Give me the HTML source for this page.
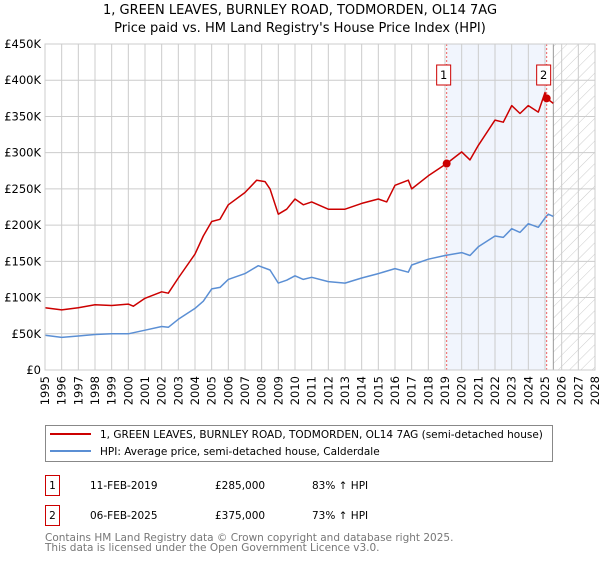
<!DOCTYPE html>
<html><head><meta charset="utf-8">
<style>
body{margin:0;background:#fff;font-family:"DejaVu Sans","Liberation Sans",sans-serif;}
svg text{font-family:"DejaVu Sans","Liberation Sans",sans-serif;}
</style></head><body>
<svg width="600" height="560" xmlns="http://www.w3.org/2000/svg">
<defs>
<pattern id="hatch" width="8" height="8" patternUnits="userSpaceOnUse" patternTransform="rotate(45)">
<line x1="0" y1="0" x2="0" y2="8" stroke="#ccc" stroke-width="1"/>
</pattern>
</defs>
<text x="300" y="14" text-anchor="middle" font-size="13" fill="#000">1, GREEN LEAVES, BURNLEY ROAD, TODMORDEN, OL14 7AG</text>
<text x="300" y="32" text-anchor="middle" font-size="13" fill="#000">Price paid vs. HM Land Registry's House Price Index (HPI)</text>
<g id="plot"></g>
<g>
<rect x="45.5" y="425.5" width="507" height="36" fill="#fff" stroke="#888"/>
<line x1="50" y1="434" x2="91" y2="434" stroke="#cc0000" stroke-width="2"/>
<text x="100" y="438" font-size="10.5">1, GREEN LEAVES, BURNLEY ROAD, TODMORDEN, OL14 7AG (semi-detached house)</text>
<line x1="50" y1="451" x2="91" y2="451" stroke="#5b8fd4" stroke-width="2"/>
<text x="100" y="455" font-size="10.5">HPI: Average price, semi-detached house, Calderdale</text>
</g>
<g font-size="10.5">
<rect x="45.5" y="475.5" width="14" height="20" fill="#fff" stroke="#cc0000"/>
<text x="52.5" y="489" text-anchor="middle">1</text>
<text x="90" y="489">11-FEB-2019</text><text x="215" y="489">£285,000</text><text x="312" y="489">83% ↑ HPI</text>
<rect x="45.5" y="505.5" width="14" height="20" fill="#fff" stroke="#cc0000"/>
<text x="52.5" y="519" text-anchor="middle">2</text>
<text x="90" y="519">06-FEB-2025</text><text x="215" y="519">£375,000</text><text x="312" y="519">73% ↑ HPI</text>
</g>
<text x="45" y="541" font-size="10.5" fill="#777">Contains HM Land Registry data © Crown copyright and database right 2025.</text>
<text x="45" y="551" font-size="10.5" fill="#777">This data is licensed under the Open Government Licence v3.0.</text>
</svg>
<script>
const yTicks=[0,50,100,150,200,250,300,350,400,450];
const yearTicks=[1995,1996,1997,1998,1999,2000,2001,2002,2003,2004,2005,2006,2007,2008,2009,2010,2011,2012,2013,2014,2015,2016,2017,2018,2019,2020,2021,2022,2023,2024,2025,2026,2027,2028];
const hpiYears=[1995,1996,1997,1998,1999,2000,2001,2002,2002.4,2003,2004,2004.5,2005,2005.5,2006,2007,2007.8,2008.5,2009,2009.5,2010,2010.5,2011,2012,2013,2014,2015,2016,2016.8,2017,2018,2019,2020,2020.5,2021,2022,2022.5,2023,2023.5,2024,2024.6,2025,2025.2,2025.5];
const hpiValues=[48,45,47,49,50,50,55,60,59,70,85,95,112,114,125,133,144,138,120,124,130,125,128,122,120,127,133,140,135,145,153,158,162,158,170,185,183,195,190,202,197,210,215,212];
const priceYears=[1995,1996,1997,1998,1999,2000,2000.3,2001,2002,2002.4,2003,2004,2004.5,2005,2005.5,2006,2007,2007.7,2008.2,2008.5,2009,2009.5,2010,2010.5,2011,2012,2013,2014,2015,2015.5,2016,2016.8,2017,2018,2019.1,2020,2020.5,2021,2022,2022.5,2023,2023.5,2024,2024.6,2025,2025.1,2025.5];
const priceValues=[86,83,86,90,89,91,88,99,108,106,127,160,185,205,208,228,245,262,260,250,215,222,236,228,232,222,222,230,236,232,255,262,250,268,285,301,290,310,345,342,365,354,365,356,383,375,368];
const saleYears=[2019.1,2025.1];
const saleValues=[285,375];
const saleLabels=["1","2"];

const NS="http://www.w3.org/2000/svg";
const X0=45,X1=595,Y0=370,Y1=44;
const xs=y=>X0+(y-1995)/(2028-1995)*(X1-X0);
const ys=v=>Y0-v/450*(Y0-Y1);
const plot=document.getElementById('plot');
function mk(t,a,p){const e=document.createElementNS(NS,t);for(const k in a)e.setAttribute(k,a[k]);(p||plot).appendChild(e);return e;}
const sh=mk('rect',{x:xs(saleYears[0]),y:Y1,width:xs(saleYears[1])-xs(saleYears[0]),height:Y0-Y1,fill:'#eef3fd',opacity:0.8});


const ht=mk('rect',{x:xs(2025.5),y:Y1,width:X1-xs(2025.5),height:Y0-Y1,fill:'url(#hatch)'});


yTicks.forEach(v=>{
 const l=mk('line',{x1:X0,x2:X1,y1:ys(v),y2:ys(v),stroke:'#ccc'});
 
 
 const t=mk('text',{x:X0-4,y:ys(v)+4,'text-anchor':'end','font-size':'11.5'});
 t.textContent=v===0?'£0':'£'+v+'K';
 
 
});
yearTicks.forEach(yr=>{
 const l=mk('line',{x1:xs(yr),x2:xs(yr),y1:Y1,y2:Y0,stroke:'#ccc'});
 
 
 const t=mk('text',{x:0,y:0,'font-size':'11.5','text-anchor':'end',transform:`translate(${xs(yr)+4},${Y0+6}) rotate(-90)`});
 t.textContent=yr;
 
 
});
const vl=mk('line',{x1:xs(2025.5),x2:xs(2025.5),y1:Y1,y2:Y0,stroke:'#999'});


function series(xa,va,col,name){
 const d=xa.map((x,i)=>(i?'L':'M')+xs(x).toFixed(1)+','+ys(va[i]).toFixed(1)).join('');
 const p=mk('path',{d:d,fill:'none',stroke:col,'stroke-width':1.5,'stroke-linejoin':'round'});
 
 
}
series(hpiYears,hpiValues,'#5b8fd4','hpi-line');
series(priceYears,priceValues,'#cc0000','price-line');
saleYears.forEach((yr,i)=>{
 const l=mk('line',{x1:xs(yr),x2:xs(yr),y1:Y1,y2:Y0,stroke:'#f06060','stroke-dasharray':'2,2'});
 
 
 const c=mk('circle',{cx:xs(yr),cy:ys(saleValues[i]),r:4,fill:'#cc0000'});
 
 
 const b=mk('rect',{x:xs(yr)-10,y:65,width:14,height:20,fill:'#fff',stroke:'#cc0000'});
 
 
 const t=mk('text',{x:xs(yr)-3,y:79,'text-anchor':'middle','font-size':'11.5'});
 t.textContent=saleLabels[i];
 
 
});
const ax=mk('rect',{x:X0,y:Y1,width:X1-X0,height:Y0-Y1,fill:'none',stroke:'#ccc'});


</script>
</body></html>
